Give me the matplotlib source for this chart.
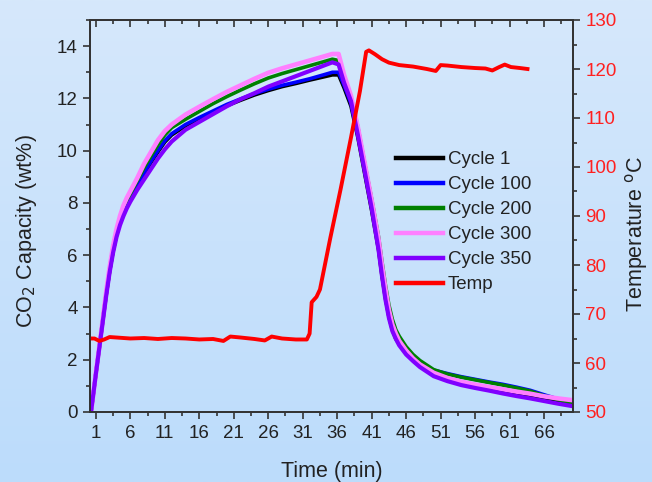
import numpy as np
import matplotlib
matplotlib.use("Agg")
import matplotlib.pyplot as plt
from matplotlib.colors import LinearSegmentedColormap
from matplotlib.ticker import MultipleLocator, FixedLocator

plt.rcParams['font.family'] = ['Liberation Sans', 'DejaVu Sans']

# ---------------- data ----------------
time_cap = [0.3, 1, 1.5, 2, 2.5, 3, 3.5, 4, 4.5, 5, 5.5, 6,
            7, 8, 9, 10, 11, 12,
            14, 16, 18, 20, 22, 24, 26, 28, 30, 32, 34,
            35.3, 36.2,
            37, 38, 39, 40, 41, 42,
            42.5, 43, 43.5, 44, 44.5, 45,
            46, 47, 48,
            50, 52, 54, 56, 58, 60, 62, 64, 66, 68, 70.2]

cycle_1 = [0, 1.46, 2.45, 3.47, 4.48, 5.38, 6.15, 6.77, 7.25, 7.62, 7.91, 8.14,
           8.64, 9.1, 9.55, 9.95, 10.33, 10.6,
           10.95, 11.22, 11.47, 11.72, 11.93, 12.13, 12.3, 12.45, 12.57, 12.7, 12.82,
           12.9, 12.9,
           12.4, 11.7, 10.5, 9.1, 7.7, 6.2,
           5.2, 4.35, 3.65, 3.15, 2.8, 2.6,
           2.25, 1.97, 1.76,
           1.42, 1.22, 1.08, 0.97, 0.88, 0.78, 0.69, 0.6, 0.5, 0.42, 0.33]

cycle_100 = [0, 1.48, 2.48, 3.5, 4.52, 5.42, 6.2, 6.82, 7.3, 7.68, 7.97, 8.2,
             8.7, 9.15, 9.6, 10.0, 10.38, 10.65,
             11.0, 11.27, 11.52, 11.77, 11.98, 12.18, 12.35, 12.5, 12.62, 12.75, 12.9,
             13.0, 13.0,
             12.5, 11.8, 10.6, 9.2, 7.8, 6.3,
             5.3, 4.45, 3.75, 3.25, 2.9, 2.68,
             2.35, 2.07, 1.85,
             1.6, 1.47, 1.35, 1.25, 1.15, 1.06, 0.95, 0.83, 0.66, 0.5, 0.35]

cycle_200 = [0, 1.5, 2.5, 3.55, 4.58, 5.5, 6.3, 6.92, 7.42, 7.8, 8.1, 8.35,
             8.85, 9.35, 9.8, 10.22, 10.6, 10.88,
             11.2, 11.5, 11.8, 12.07, 12.32, 12.56, 12.78, 12.95, 13.1, 13.25, 13.4,
             13.5, 13.45,
             12.85, 12.05, 10.9, 9.5, 8.15, 6.7,
             5.75, 4.85, 4.1, 3.55, 3.15, 2.9,
             2.5, 2.2, 1.97,
             1.62, 1.45, 1.33, 1.23, 1.13, 1.03, 0.92, 0.8, 0.62, 0.48, 0.33]

cycle_300 = [0, 1.5, 2.5, 3.55, 4.6, 5.55, 6.35, 7.0, 7.5, 7.9, 8.2, 8.45,
             8.95, 9.5, 9.95, 10.4, 10.75, 11.0,
             11.38, 11.68, 11.97, 12.25, 12.5, 12.75, 12.98, 13.15, 13.3, 13.45, 13.6,
             13.7, 13.7,
             12.9, 12.1, 10.9, 9.5, 8.1, 6.6,
             5.6, 4.7, 3.9, 3.35, 3.0, 2.72,
             2.35, 2.05, 1.82,
             1.5, 1.3, 1.16, 1.05, 0.96, 0.87, 0.78, 0.7, 0.6, 0.52, 0.45]

cycle_350 = [0, 1.45, 2.45, 3.45, 4.45, 5.35, 6.1, 6.7, 7.15, 7.5, 7.8, 8.05,
             8.5, 8.9, 9.3, 9.7, 10.05, 10.35,
             10.8, 11.1, 11.4, 11.7, 11.97, 12.2, 12.45, 12.65, 12.85, 13.05, 13.25,
             13.38, 13.3,
             12.6, 11.9, 10.6, 9.2, 7.8, 6.2,
             5.2, 4.3, 3.6, 3.1, 2.8, 2.55,
             2.2, 1.95, 1.72,
             1.37, 1.18, 1.03, 0.92, 0.82, 0.71, 0.61, 0.52, 0.42, 0.32, 0.22]

time_temp = [0.15, 0.8, 1.5, 2.2, 3, 4, 6, 8, 10, 12, 14, 16, 18, 19.5, 20.5, 22, 24, 25.5, 26.5,
             28, 30, 31.6, 32.0, 32.3, 33.0, 33.5, 35.0, 36.5, 38.0, 39.3, 40.2, 40.6, 41.5, 42.5,
             43.5, 45, 47, 49, 50.3, 51.0, 52, 54, 56, 57.5, 58.5, 59.5, 60.3, 61.2, 62.5, 63.6]
temp = [65.0, 65.0, 64.5, 64.8, 65.3, 65.2, 65.0, 65.1, 64.9, 65.1, 65.0, 64.8, 64.9, 64.5, 65.4,
        65.2, 64.9, 64.6, 65.4, 65.0, 64.8, 64.8, 66.0, 72.4, 73.5, 75.0, 85.5, 95.5, 106.0,
        115.5, 123.5, 123.8, 123.0, 122.0, 121.3, 120.8, 120.5, 120.0, 119.6, 120.8, 120.7,
        120.4, 120.2, 120.1, 119.7, 120.4, 120.9, 120.4, 120.2, 120.0]

x_ticks = [1, 6, 11, 16, 21, 26, 31, 36, 41, 46, 51, 56, 61, 66]
series_labels = ['Cycle 1', 'Cycle 100', 'Cycle 200', 'Cycle 300', 'Cycle 350']

# ---------------- figure ----------------
W, H = 652, 482
fig = plt.figure(figsize=(W / 100, H / 100), dpi=100)

# background gradient
bg = fig.add_axes([0, 0, 1, 1], zorder=-10)
cmap = LinearSegmentedColormap.from_list('bg', ['#d6e8fb', '#bcdcfc'])
grad = np.linspace(0, 1, 256).reshape(-1, 1)
bg.imshow(grad, aspect='auto', cmap=cmap, extent=[0, 1, 0, 1], origin='upper')
bg.axis('off')

ax = fig.add_axes([90 / W, 1 - 412 / H, (573 - 90) / W, (412 - 20) / H])
ax.set_facecolor('none')
ax2 = ax.twinx()

dark = '#333333'
colors = ['#000000', '#0000ff', '#008000', '#ff80ff', '#8000ff']
widths = [2.6, 2.6, 2.6, 3.3, 3.0]
series = [cycle_1, cycle_100, cycle_200, cycle_300, cycle_350]
handles = []
for vals, c, lw, lab in zip(series, colors, widths, series_labels):
    h, = ax.plot(time_cap, vals, color=c, lw=lw, label=lab, solid_joinstyle='round')
    handles.append(h)

ht, = ax2.plot(time_temp, temp, color='#ff0000', lw=2.8, label='Temp')
handles.append(ht)

ax.set_xlim(0.15, 70.2)
ax.set_ylim(0, 15)
ax2.set_ylim(50, 130)

ax.xaxis.set_major_locator(FixedLocator(x_ticks))
ax.xaxis.set_minor_locator(FixedLocator([t + 2.5 for t in x_ticks] + [-1.5]))
ax.yaxis.set_major_locator(MultipleLocator(2))
ax.yaxis.set_minor_locator(MultipleLocator(1))
ax2.yaxis.set_major_locator(MultipleLocator(10))
ax2.yaxis.set_minor_locator(MultipleLocator(5))

ax.tick_params(axis='x', which='both', direction='out', top=True, color=dark, width=1.2,
               labelsize=13.5, labelcolor='#222222', pad=4)
ax.tick_params(axis='x', which='major', length=5)
ax.tick_params(axis='x', which='minor', length=2.8)
ax.tick_params(axis='y', which='both', direction='out', color=dark, width=1.2,
               labelsize=13.5, labelcolor='#222222', pad=4)
ax.tick_params(axis='y', which='major', length=5)
ax.tick_params(axis='y', which='minor', length=2.8)
ax2.tick_params(axis='y', which='both', direction='out', color=dark, width=1.2,
                labelsize=13.5, labelcolor='#ff2020', pad=4)
ax2.tick_params(axis='y', which='major', length=5)
ax2.tick_params(axis='y', which='minor', length=2.8)

# top ticks point inward
for t in ax.xaxis.get_major_ticks() + ax.xaxis.get_minor_ticks():
    t.tick2line.set_marker(matplotlib.lines.TICKDOWN)

for a in (ax, ax2):
    for s in a.spines.values():
        s.set_color(dark)
        s.set_linewidth(1.3)

ax.set_xlabel('Time (min)', fontsize=15.5, color='#222222', labelpad=14)
fig.text(27 / W, 1 - 231 / H, 'CO$_2$ Capacity (wt%)', rotation=90, fontsize=15.5,
         color='#222222', ha='center', va='center')
fig.text(636 / W, 1 - 234 / H, 'Temperature $^{\\mathrm{o}}$C', rotation=90, fontsize=15.5,
         color='#222222', ha='center', va='center')

leg = fig.legend(handles=handles, labels=[h.get_label() for h in handles],
                 loc='upper left', bbox_to_anchor=(396 / W, 1 - 151 / H), frameon=False,
                 fontsize=13.5, handlelength=2.5, handletextpad=0.25, labelspacing=0.42,
                 borderpad=0, borderaxespad=0)
for txt in leg.get_texts():
    txt.set_color('#222222')
for lh in leg.get_lines():
    lh.set_linewidth(3.2)

fig.savefig('out.png', dpi=100)
